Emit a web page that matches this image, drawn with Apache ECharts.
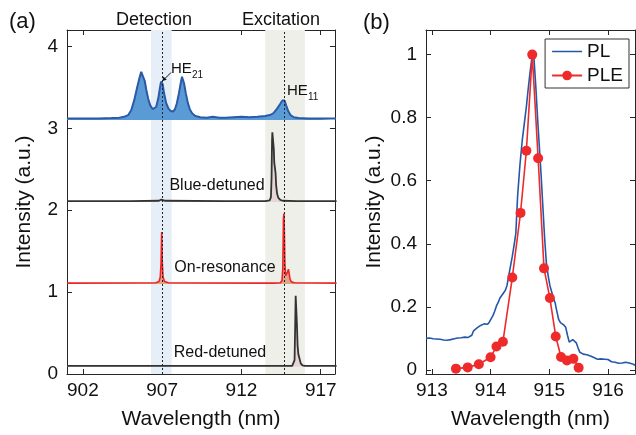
<!DOCTYPE html>
<html><head><meta charset="utf-8">
<script src="https://cdn.jsdelivr.net/npm/echarts@6/dist/echarts.min.js"></script>
<style>html,body{margin:0;padding:0;background:#fff}#c{width:636px;height:435px}</style>
</head><body><div id="c"></div>
<script>
// ---------- Panel (a) data ----------
const aXTicks = [902, 907, 912, 917];
const aYTicks = [0, 1, 2, 3, 4];
const heX = [901.0,902.0,903.0,903.8,904.3,904.6,904.85,905.05,905.25,905.4,905.55,905.68,905.74,905.8,905.9,906.0,906.12,906.25,906.4,906.52,906.62,906.75,906.85,906.93,906.97,907.03,907.12,907.25,907.4,907.55,907.68,907.8,907.92,908.05,908.17,908.25,908.3,908.38,908.5,908.62,908.75,908.9,909.1,909.4,909.8,910.2,910.6,911.0,911.5,912.0,912.5,913.0,913.5,913.85,914.05,914.25,914.45,914.58,914.65,914.72,914.82,914.95,915.1,915.3,915.6,916.2,917.0,918.0];
const heY = [3.12,3.12,3.12,3.125,3.13,3.14,3.16,3.22,3.35,3.48,3.60,3.69,3.71,3.68,3.58,3.47,3.36,3.28,3.235,3.225,3.26,3.36,3.48,3.57,3.58,3.54,3.43,3.31,3.24,3.21,3.205,3.23,3.30,3.42,3.55,3.63,3.625,3.55,3.42,3.31,3.23,3.18,3.15,3.135,3.13,3.14,3.13,3.13,3.135,3.14,3.135,3.14,3.15,3.165,3.19,3.24,3.30,3.34,3.36,3.34,3.28,3.21,3.16,3.135,3.125,3.12,3.12,3.12];
const blueDetX = [901,905,906.8,906.95,907.0,907.05,907.2,911,913.5,913.78,913.86,913.9,913.93,913.95,914.01,914.04,914.07,914.11,914.15,914.19,914.25,914.33,914.45,914.6,915.5,918];
const blueDetY = [2.11,2.11,2.115,2.13,2.14,2.13,2.115,2.11,2.11,2.12,2.16,2.4,2.85,2.95,2.95,2.75,2.58,2.52,2.46,2.3,2.2,2.15,2.125,2.115,2.11,2.11];
const onResX = [901,906.6,906.8,906.88,906.93,906.97,907.01,907.06,907.15,907.4,914.0,914.45,914.56,914.61,914.65,914.68,914.71,914.74,914.79,914.86,914.92,914.96,915.0,915.06,915.15,915.35,918];
const onResY = [1.11,1.115,1.13,1.18,1.35,1.735,1.35,1.18,1.13,1.115,1.11,1.115,1.14,1.3,1.9,1.96,1.7,1.35,1.2,1.19,1.25,1.28,1.24,1.16,1.125,1.115,1.11];
const redDetX = [901,915.2,915.3,915.35,915.39,915.42,915.47,915.5,915.54,915.59,915.66,915.74,915.85,916.0,918];
const redDetY = [0.10,0.10,0.11,0.17,0.6,0.955,0.95,0.6,0.35,0.24,0.19,0.13,0.105,0.10,0.10];
const detectionBand = [906.3, 907.6];
const excitationBand = [913.5, 916.0];
const markerLines = [907.0, 914.7];

// ---------- Panel (b) data ----------
const bXTicks = [913, 914, 915, 916];
const bYTicks = [0, 0.2, 0.4, 0.6, 0.8, 1];
const plX = [912.90,912.93,912.96,912.99,913.02,913.05,913.08,913.11,913.14,913.17,913.20,913.23,913.26,913.29,913.32,913.35,913.38,913.41,913.44,913.47,913.50,913.53,913.56,913.59,913.62,913.65,913.68,913.71,913.74,913.77,913.80,913.83,913.86,913.89,913.92,913.95,913.98,914.01,914.04,914.07,914.10,914.13,914.16,914.19,914.22,914.25,914.28,914.31,914.34,914.37,914.40,914.43,914.46,914.50,914.54,914.58,914.61,914.64,914.67,914.70,914.72,914.74,914.77,914.80,914.83,914.86,914.89,914.92,914.95,914.98,915.01,915.04,915.07,915.10,915.13,915.16,915.19,915.22,915.25,915.28,915.31,915.34,915.37,915.40,915.43,915.46,915.49,915.52,915.55,915.58,915.61,915.64,915.67,915.70,915.73,915.76,915.79,915.82,915.85,915.88,915.91,915.94,915.97,916.00,916.03,916.06,916.09,916.12,916.15,916.18,916.21,916.24,916.27,916.30,916.33,916.36,916.39,916.42,916.46];
const plY = [0.100,0.098,0.101,0.097,0.099,0.096,0.098,0.094,0.097,0.093,0.095,0.091,0.094,0.092,0.096,0.094,0.099,0.097,0.101,0.104,0.102,0.106,0.104,0.109,0.103,0.098,0.110,0.124,0.128,0.133,0.136,0.141,0.139,0.146,0.148,0.145,0.152,0.158,0.172,0.186,0.203,0.214,0.228,0.236,0.244,0.252,0.268,0.300,0.330,0.360,0.395,0.433,0.550,0.650,0.729,0.790,0.835,0.890,0.940,0.985,1.000,0.985,0.900,0.800,0.710,0.620,0.520,0.420,0.340,0.300,0.268,0.248,0.228,0.212,0.185,0.160,0.150,0.146,0.142,0.135,0.110,0.088,0.090,0.096,0.093,0.086,0.070,0.056,0.052,0.050,0.052,0.048,0.046,0.044,0.042,0.039,0.040,0.034,0.032,0.035,0.037,0.034,0.031,0.033,0.028,0.026,0.029,0.024,0.022,0.021,0.025,0.022,0.027,0.024,0.020,0.022,0.017,0.019,0.015];
const pleX = [913.41,913.61,913.80,914.00,914.10,914.21,914.37,914.51,914.61,914.71,914.81,914.91,915.01,915.11,915.20,915.30,915.41,915.50];
const pleY = [0.004,0.008,0.018,0.040,0.074,0.089,0.293,0.498,0.695,1.000,0.671,0.322,0.228,0.106,0.041,0.030,0.035,0.007];

const zip = (xs, ys) => xs.map((x, i) => [x, ys[i]]);
const FONT = '"Liberation Sans", Arial, Helvetica, sans-serif';
const AX = '#262626';
// legend glyph: a plain horizontal line (tiny corner specks fix the bounding box)
const LINE_ICON = 'path://M0,0L0.01,0L0.01,0.01L0,0.01Z M0,5.2L30,5.2L30,6.8L0,6.8Z M0,11.99L0.01,11.99L0.01,12L0,12Z';

function xAx(grid, min, max, ticks, bottom) {
  return {
    type: 'value', gridIndex: grid, min: min, max: max, position: bottom ? 'bottom' : 'top',
    axisLine: { show: true, onZero: false, lineStyle: { color: AX, width: 1 } },
    axisTick: { show: true, inside: true, length: 5, customValues: ticks, lineStyle: { color: AX } },
    axisLabel: bottom ? { show: true, customValues: ticks, fontSize: 19, color: '#111', margin: 7, fontFamily: FONT } : { show: false },
    splitLine: { show: false },
    name: bottom ? 'Wavelength (nm)' : '', nameLocation: 'middle', nameGap: 35,
    nameTextStyle: { fontSize: 21, color: '#111', fontFamily: FONT }
  };
}
function yAx(grid, min, max, ticks, left, gap) {
  return {
    type: 'value', gridIndex: grid, min: min, max: max, position: left ? 'left' : 'right',
    axisLine: { show: true, onZero: false, lineStyle: { color: AX, width: 1 } },
    axisTick: { show: true, inside: true, length: 5, customValues: ticks, lineStyle: { color: AX } },
    axisLabel: left ? { show: true, customValues: ticks, fontSize: 19, color: '#111', margin: 9, fontFamily: FONT } : { show: false },
    splitLine: { show: false },
    name: left ? 'Intensity (a.u.)' : '', nameLocation: 'middle', nameGap: gap || 30, nameRotate: 90,
    nameTextStyle: { fontSize: 21, color: '#111', fontFamily: FONT }
  };
}

function spectrum(xs, ys, lineColor, fillColor, base, w) {
  return {
    type: 'line', xAxisIndex: 0, yAxisIndex: 0, data: zip(xs, ys), symbol: 'none', showSymbol: false,
    lineStyle: { color: lineColor, width: w }, areaStyle: { color: fillColor, opacity: 1, origin: base },
    z: 3, silent: true
  };
}

const chart = echarts.init(document.getElementById('c'), null, { renderer: 'canvas' });
const txt = (x, y, t, size, align, va) => ({
  type: 'text', x: x, y: y, silent: true, z: 100,
  style: { text: t, fontSize: size, fontFamily: FONT, fill: '#111', align: align || 'center', verticalAlign: va || 'middle' }
});
chart.setOption({
  animation: false,
  backgroundColor: '#fff',
  textStyle: { fontFamily: FONT },
  grid: [
    { left: 67, top: 30, width: 268, height: 345 },
    { left: 426, top: 30, width: 209, height: 344 }
  ],
  xAxis: [
    xAx(0, 901, 917.9, aXTicks, true), xAx(0, 901, 917.9, aXTicks, false),
    xAx(1, 912.9, 916.46, bXTicks, true), xAx(1, 912.9, 916.46, bXTicks, false)
  ],
  yAxis: [
    yAx(0, 0, 4.2, aYTicks, true, 32), yAx(0, 0, 4.2, aYTicks, false),
    yAx(1, -0.013, 1.078, bYTicks, true, 41), yAx(1, -0.013, 1.078, bYTicks, false)
  ],
  legend: {
    data: [{ name: 'PL', icon: LINE_ICON }, { name: 'PLE' }], orient: 'vertical', right: 7, top: 39,
    borderColor: '#333', borderWidth: 1, backgroundColor: '#fff', borderRadius: 0,
    padding: [3, 6, 3, 6], itemGap: 5, itemWidth: 30, itemHeight: 12,
    textStyle: { fontSize: 19, color: '#111', fontFamily: FONT }
  },
  series: [
    {
      type: 'line', xAxisIndex: 0, yAxisIndex: 0, data: [[901, -1]], symbol: 'none', silent: true, z: 1,
      lineStyle: { opacity: 0 },
      markArea: {
        silent: true,
        data: [
          [{ xAxis: detectionBand[0], itemStyle: { color: '#e6eef7' } }, { xAxis: detectionBand[1] }],
          [{ xAxis: excitationBand[0], itemStyle: { color: '#efefea' } }, { xAxis: excitationBand[1] }]
        ]
      },
      markLine: {
        silent: true, symbol: 'none', label: { show: false },
        lineStyle: { color: '#222', width: 1, type: [2, 2] },
        data: markerLines.map(v => ({ xAxis: v }))
      }
    },
    spectrum(heX, heY, '#2a5aa8', '#5b9bd5', 3.1, 2),
    spectrum(blueDetX, blueDetY, '#333333', '#e6d6d6', 2.1, 1.8),
    spectrum(onResX, onResY, '#ee2222', '#dca58c', 1.1, 1.6),
    spectrum(redDetX, redDetY, '#333333', '#e6d6d6', 0.09, 1.8),
    {
      name: 'PL', type: 'line', xAxisIndex: 2, yAxisIndex: 2, data: zip(plX, plY),
      symbol: 'none', showSymbol: false, lineStyle: { color: '#2457a8', width: 1.6 }, itemStyle: { color: '#2457a8' }, z: 3
    },
    {
      name: 'PLE', type: 'line', xAxisIndex: 2, yAxisIndex: 2, data: zip(pleX, pleY),
      symbol: 'circle', symbolSize: 10, showSymbol: true, lineStyle: { color: '#ee2a2a', width: 1.6 },
      itemStyle: { color: '#ee2a2a' }, z: 4
    }
  ],
  graphic: [
    txt(9, 22, '(a)', 22, 'left'),
    txt(363, 23, '(b)', 22, 'left'),
    txt(154, 20, 'Detection', 18),
    txt(281, 20, 'Excitation', 18),
    txt(217, 186, 'Blue-detuned', 16),
    txt(225, 268, 'On-resonance', 16),
    txt(220, 353, 'Red-detuned', 16),
    txt(171, 69, 'HE', 15, 'left'),
    txt(192, 75, '21', 10, 'left'),
    txt(287, 91, 'HE', 15, 'left'),
    txt(308, 97, '11', 10, 'left'),
    { type: 'line', silent: true, z: 100, shape: { x1: 163.5, y1: 80, x2: 171, y2: 72.5 }, style: { stroke: '#111', lineWidth: 1 } },
    { type: 'polygon', silent: true, z: 100, shape: { points: [[162.5, 81], [163.2, 76.5], [166.8, 79.8]] }, style: { fill: '#111' } }
  ]
});
</script></body></html>
